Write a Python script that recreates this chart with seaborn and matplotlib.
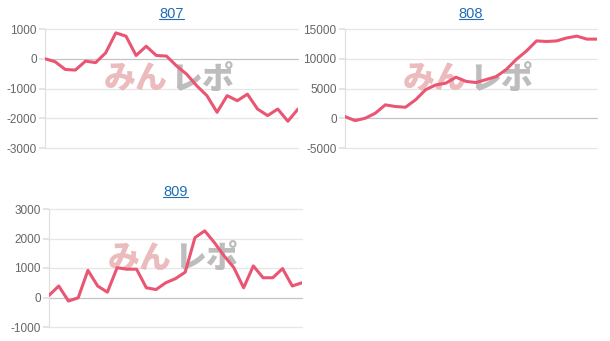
import matplotlib
matplotlib.use("Agg")
import matplotlib.pyplot as plt
import seaborn as sns
import pandas as pd
import numpy as np

titles = ["807", "808", "809"]
s807 = [0, -100, -360, -380, -80, -130, 200, 870, 760, 110, 420, 110, 90, -240,
        -520, -910, -1240, -1800, -1240, -1410, -1190, -1690, -1910, -1690, -2100, -1690]
s808 = [280, -400, 0, 840, 2250, 1970, 1850, 3100, 4800, 5600, 5900, 6900, 6200,
        6000, 6500, 7000, 8200, 9900, 11300, 13000, 12900, 13000, 13500, 13800, 13300, 13300]
s809 = [70, 390, -120, -10, 920, 390, 180, 1010, 960, 960, 330, 270, 500, 640, 860,
        2030, 2260, 1860, 1410, 1010, 330, 1070, 670, 670, 980, 390, 500]
yticks807 = [-3000, -2000, -1000, 0, 1000]
yticks808 = [-5000, 0, 5000, 10000, 15000]
yticks809 = [-1000, 0, 1000, 2000, 3000]

sns.set_theme(style="white")
plt.rcParams['font.family'] = ['Liberation Sans', 'DejaVu Sans', 'Noto Sans CJK JP']

fig = plt.figure(figsize=(6.1, 3.41), dpi=100)
W, H = 610, 341

def box(l, r, t, b):
    return [l / W, 1 - b / H, (r - l) / W, (b - t) / H]

panels = [
    (titles[0], s807, yticks807, box(45, 298, 29, 148), 8),
    (titles[1], s808, yticks808, box(345, 597, 29, 148), 8),
    (titles[2], s809, yticks809, box(49, 302, 209, 327), 9),
]

line_color = "#ea5573"
for title, series, yt, rect, pad in panels:
    ax = fig.add_axes(rect)
    df = pd.DataFrame({"x": np.arange(len(series)), "y": series})
    for v in yt:
        ax.axhline(v, color="#c4c4c4" if v == 0 else "#e6e6e6", lw=0.9, zorder=0,
                   clip_on=False)
    # watermark
    ax.text(0.485, 0.58, "みん", transform=ax.transAxes, ha="right", va="center",
            fontsize=23, fontweight="heavy", style="italic", color="#e9b0b3", alpha=0.85,
            family=["Noto Sans CJK JP"], zorder=1)
    ax.text(0.495, 0.58, "レポ", transform=ax.transAxes, ha="left", va="center",
            fontsize=23, fontweight="heavy", style="italic", color="#b2b2b2", alpha=0.85,
            family=["Noto Sans CJK JP"], zorder=1)
    sns.lineplot(data=df, x="x", y="y", ax=ax, color=line_color, lw=2.2, zorder=3)
    ax.set_xlim(0, len(series) - 1)
    ax.set_ylim(yt[0], yt[-1])
    ax.set_yticks(yt)
    ax.set_yticklabels([str(v) for v in yt])
    ax.set_xticks([])
    ax.set_xlabel("")
    ax.set_ylabel("")
    for side in ["top", "right", "bottom"]:
        ax.spines[side].set_visible(False)
    ax.spines["left"].set_color("#e0e0e0")
    ax.spines["left"].set_linewidth(0.9)
    ax.tick_params(axis="y", length=4, color="#e0e0e0", labelsize=8.5,
                   labelcolor="#666666", pad=2, left=True)
    ax.patch.set_alpha(0)
    ax.set_title(title, fontsize=10.5, color="#1f6db4", pad=pad)

fig.canvas.draw()
renderer = fig.canvas.get_renderer()
inv = fig.transFigure.inverted()
for ax in fig.axes:
    bb = ax.title.get_window_extent(renderer)
    (x0, y0), (x1, y1) = inv.transform([(bb.x0, bb.y0), (bb.x1, bb.y1)])
    fig.add_artist(plt.Line2D([x0, x1], [y0 + 0.006, y0 + 0.006], transform=fig.transFigure,
                              color="#1f6db4", lw=0.8))

fig.savefig("out.png", dpi=100, facecolor="white")
